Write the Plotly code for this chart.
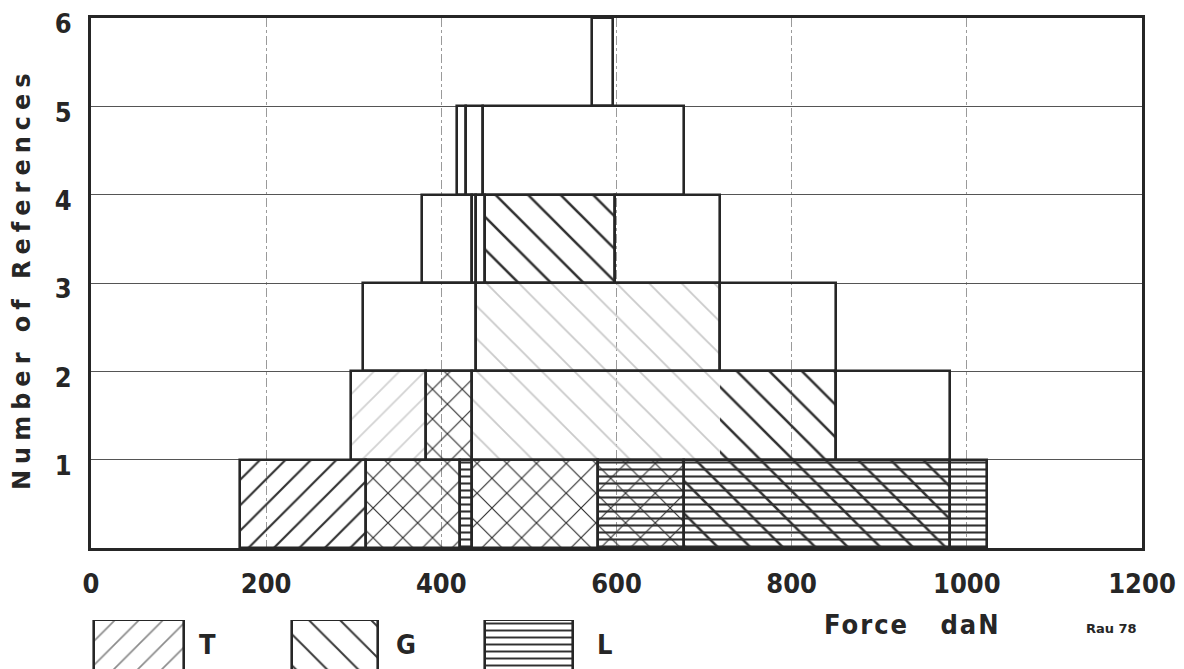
import plotly.graph_objects as go

# ---------------- data (force in daN, count levels) ----------------
# outline boxes: one per reference range, stacked by count level
box_x0 = [170, 314, 421, 435, 579, 677, 981,
          297, 382, 435, 851,
          311, 440, 718,
          378, 435, 440, 450, 598,
          418, 428, 447,
          572]
box_x1 = [314, 421, 435, 579, 677, 981, 1023,
          382, 435, 851, 981,
          440, 718, 851,
          435, 440, 450, 598, 718,
          428, 447, 677,
          596]
box_y0 = [0, 0, 0, 0, 0, 0, 0,
          1, 1, 1, 1,
          2, 2, 2,
          3, 3, 3, 3, 3,
          4, 4, 4,
          5]

# hatched regions: T = "/", G = "\", X = both, L = horizontal; lower case = faint
hatch_x0 = [170, 314, 421, 435, 579, 579, 677, 297, 382, 435, 718, 440, 450]
hatch_x1 = [314, 421, 435, 579, 1023, 677, 981, 382, 435, 718, 851, 718, 598]
hatch_y0 = [0, 0, 0, 0, 0, 0, 0, 1, 1, 1, 1, 2, 3]
hatch_kind = ["T", "X", "L", "X", "L", "X", "G", "t", "X", "g", "G", "g", "G"]

legend_names = ["T", "G", "L"]
x_ticks = [0, 200, 400, 600, 800, 1000, 1200]
y_ticks = [1, 2, 3, 4, 5, 6]

# ---------------- styles ----------------
INK = "#262626"
FONT = "DejaVu Sans"
TICKFONT = "DejaVu Sans Condensed, DejaVu Sans"
STYLE = {
    "T": dict(shape="/", fgcolor="#303030", size=18, solidity=0.12),
    "t": dict(shape="/", fgcolor="#d2d2d2", size=18, solidity=0.1),
    "G": dict(shape="\\", fgcolor="#303030", size=23, solidity=0.11),
    "g": dict(shape="\\", fgcolor="#cacaca", size=23, solidity=0.08),
    "X": dict(shape="x", fgcolor="#303030", size=21, solidity=0.11),
    "L": dict(shape="-", fgcolor="#303030", size=7, solidity=0.3),
}
CLEAR = "rgba(0,0,0,0)"

fig = go.Figure()

# hatch fills, one trace per kind
for kind in STYLE:
    idx = [i for i, k in enumerate(hatch_kind) if k == kind]
    if not idx:
        continue
    st = STYLE[kind]
    fig.add_trace(go.Bar(
        x=[(hatch_x0[i] + hatch_x1[i]) / 2 for i in idx],
        width=[hatch_x1[i] - hatch_x0[i] for i in idx],
        base=[hatch_y0[i] for i in idx],
        y=[1 for _ in idx],
        marker=dict(color=CLEAR, line=dict(width=0),
                    pattern=dict(shape=st["shape"], fgcolor=st["fgcolor"],
                                 bgcolor=CLEAR, size=st["size"], fgopacity=1,
                                 solidity=st["solidity"], fillmode="overlay")),
        showlegend=False, hoverinfo="skip",
    ))

# outlines of each reference box
fig.add_trace(go.Bar(
    x=[(a + b) / 2 for a, b in zip(box_x0, box_x1)],
    width=[b - a for a, b in zip(box_x0, box_x1)],
    base=box_y0,
    y=[1 for _ in box_x0],
    marker=dict(color=CLEAR, line=dict(color=INK, width=2.6)),
    showlegend=False, hoverinfo="skip",
))

# legend swatches on their own small axis
leg_x0 = [3, 229, 450]
leg_x1 = [106, 328, 550]
leg_style = [dict(shape="/", fgcolor="#8a8a8a", size=17, solidity=0.1),
             dict(shape="\\", fgcolor="#3a3a3a", size=22, solidity=0.09),
             dict(shape="-", fgcolor="#303030", size=7, solidity=0.28)]
for i, name in enumerate(legend_names):
    st = leg_style[i]
    fig.add_trace(go.Bar(
        x=[(leg_x0[i] + leg_x1[i]) / 2], width=[leg_x1[i] - leg_x0[i]],
        base=[0], y=[1], xaxis="x2", yaxis="y2",
        marker=dict(color=CLEAR, line=dict(color=INK, width=2.6),
                    pattern=dict(bgcolor=CLEAR, fillmode="overlay", fgopacity=1, **st)),
        showlegend=False, hoverinfo="skip",
    ))

# page offset (browser body margin)
OFF = 8
W, H = 1184, 669
L_M, R_M, T_M, B_M = 91 - OFF, W - (1142 - OFF), 18 - OFF, 0
PH = H - T_M - B_M
PW = W - L_M - R_M


def px_x(p):
    return (p - OFF - L_M) / PW


def px_y(p):
    return (H - B_M - (p - OFF)) / PH


def note(text, x, y, size, bold=False, angle=0, family=FONT, spacing=None):
    t = text
    if spacing is not None:
        t = f'<span style="letter-spacing:{spacing}px">{t}</span>'
    if bold:
        t = f"<b>{t}</b>"
    return dict(text=t, textangle=angle, xref="paper", yref="paper",
                x=px_x(x), y=px_y(y), xanchor="center", yanchor="middle",
                showarrow=False, font=dict(family=family, size=size, color=INK))


fig.update_layout(
    width=W, height=H,
    margin=dict(l=L_M, r=R_M, t=T_M, b=B_M, autoexpand=False),
    paper_bgcolor="white", plot_bgcolor="white",
    barmode="overlay", bargap=0,
    font=dict(family=FONT, color=INK, size=25),
    xaxis=dict(range=[0, 1200], tickvals=x_ticks,
               ticktext=[f"<b>{v}</b>" for v in x_ticks],
               showgrid=True, gridcolor="#9a9a9a", gridwidth=1.3, griddash="dashdot",
               showline=True, mirror=True, linecolor=INK, linewidth=3,
               ticks="", ticklabelstandoff=10, zeroline=False,
               ticklabeloverflow="allow",
               tickfont=dict(family=TICKFONT, size=27, color=INK), anchor="y"),
    yaxis=dict(range=[0, 6], domain=[px_y(548), 1], tickvals=y_ticks,
               ticktext=[f"<b>{v}</b>" for v in y_ticks],
               showgrid=True, gridcolor="#555555", gridwidth=1.4,
               showline=True, mirror=True, linecolor=INK, linewidth=3,
               ticks="", ticklabelstandoff=11, ticklabelshift=6, zeroline=False,
               ticklabeloverflow="allow",
               tickfont=dict(family=TICKFONT, size=27, color=INK), anchor="x"),
    xaxis2=dict(range=[0, 1200], domain=[0, 1], anchor="y2", visible=False),
    yaxis2=dict(range=[0, 1], domain=[0, px_y(620)], anchor="x2", visible=False),
    annotations=[
        note("Number of References", 22, 279, 24, bold=True, angle=-90, spacing=6),
        note("Force\u00a0\u00a0\u00a0daN", 912, 624, 27, bold=True, family=TICKFONT, spacing=2),
        note("Rau 78", 1111, 628, 13, bold=True),
        note("T", 207, 644, 27, bold=True, family=TICKFONT),
        note("G", 406, 644, 27, bold=True, family=TICKFONT),
        note("L", 604, 644, 27, bold=True, family=TICKFONT),
    ],
)

fig.write_html("out.html")
